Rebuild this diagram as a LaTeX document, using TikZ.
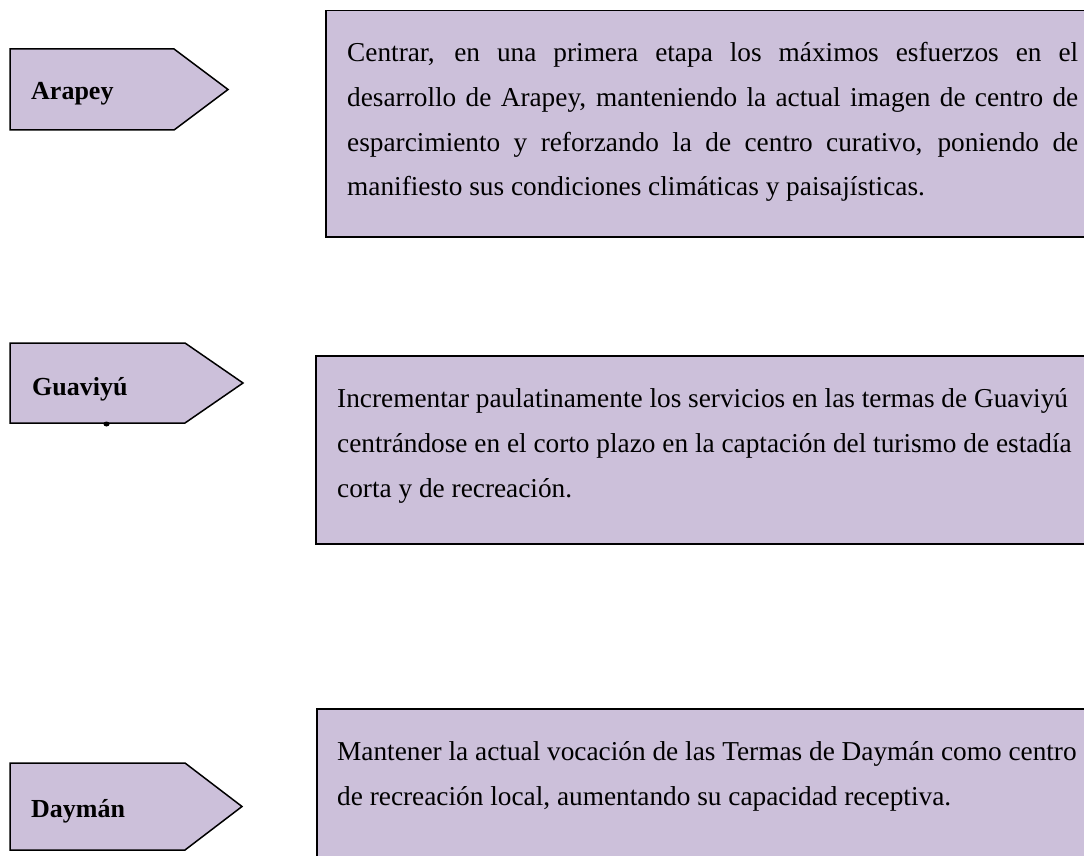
\documentclass[tikz,border=0pt]{standalone}
\usepackage{fontspec}
\setmainfont{Liberation Serif}
\definecolor{lav}{HTML}{CCC0DA}
\tikzset{
  shapebox/.style={fill=lav, draw=black, line width=1.5pt, line join=miter},
  tagtext/.style={font=\fontsize{26}{30}\selectfont\bfseries, anchor=base west, inner sep=0pt},
  bodyline/.style={font=\fontsize{27.3}{44.5}\selectfont, anchor=base west, inner sep=0pt},
}
\begin{document}
\begin{tikzpicture}[x=1pt,y=-1pt]
\useasboundingbox (0,0) rectangle (1084,856);
\clip (0,0) rectangle (1084,856);
\fill[white] (0,0) rectangle (1084,856);

% boxes
\node[shapebox, anchor=north west, minimum width=800pt, minimum height=226pt, inner sep=0pt] (b1) at (325,10) {};
\node[shapebox, anchor=north west, minimum width=800pt, minimum height=188pt, inner sep=0pt] (b2) at (315,355) {};
\node[shapebox, anchor=north west, minimum width=800pt, minimum height=200pt, inner sep=0pt] (b3) at (316,708) {};

% pentagons
\draw[shapebox] (10,49) -- (174,49) -- (228,89.5) -- (174,130) -- (10,130) -- cycle;
\draw[shapebox] (10,343) -- (185,343) -- (243,383) -- (185,423) -- (10,423) -- cycle;
\fill (106.5,424) ellipse (3pt and 2.5pt);
\draw[shapebox] (10,763) -- (185,763) -- (242,806.5) -- (185,850) -- (10,850) -- cycle;

\node[tagtext] (t1) at (31,100) {Arapey};
\node[tagtext] (t2) at (32,395) {Guaviyú};
\node[tagtext] (t3) at (31,817) {Daymán};

% box 1 text (justified)
\node[bodyline] (l11) at (347,62) {\hbox to 731pt{Centrar, en una primera etapa los máximos esfuerzos en el}};
\node[bodyline] (l12) at (347,106.5) {\hbox to 731pt{desarrollo de Arapey, manteniendo la actual imagen de centro de}};
\node[bodyline] (l13) at (347,151) {\hbox to 731pt{esparcimiento y reforzando la de centro curativo, poniendo de}};
\node[bodyline] (l14) at (347,195.5) {manifiesto sus condiciones climáticas y paisajísticas.};

% box 2 text
\node[bodyline] (l21) at (337,407) {Incrementar paulatinamente los servicios en las termas de Guaviyú};
\node[bodyline] (l22) at (337,452) {centrándose en el corto plazo en la captación del turismo de estadía};
\node[bodyline] (l23) at (337,497) {corta y de recreación.};

% box 3 text
\node[bodyline] (l31) at (337,760) {Mantener la actual vocación de las Termas de Daymán como centro};
\node[bodyline] (l32) at (337,805) {de recreación local, aumentando su capacidad receptiva.};
\end{tikzpicture}
\end{document}
